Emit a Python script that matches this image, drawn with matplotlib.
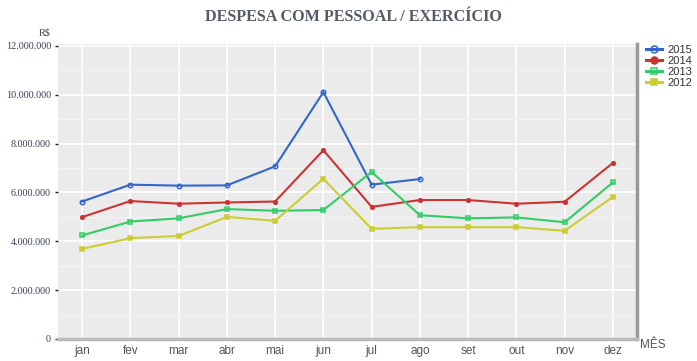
import matplotlib
matplotlib.use("Agg")
import matplotlib.pyplot as plt
from matplotlib.ticker import FuncFormatter, MultipleLocator

months = ["jan", "fev", "mar", "abr", "mai", "jun", "jul", "ago", "set", "out", "nov", "dez"]
s2015 = [5.63, 6.32, 6.28, 6.29, 7.07, 10.11, 6.32, 6.55]
s2014 = [4.99, 5.65, 5.54, 5.59, 5.63, 7.73, 5.41, 5.69, 5.69, 5.54, 5.62, 7.21]
s2013 = [4.24, 4.81, 4.94, 5.32, 5.25, 5.28, 6.84, 5.07, 4.94, 4.98, 4.78, 6.41]
s2012 = [3.69, 4.13, 4.22, 5.00, 4.84, 6.56, 4.51, 4.58, 4.58, 4.58, 4.43, 5.82]
yticks = [0, 2, 4, 6, 8, 10, 12]

series = [
    ("2015", s2015, "#3366CC", "o", "none"),
    ("2014", s2014, "#CC3333", "o", "#CC3333"),
    ("2013", s2013, "#33CC66", "s", "none"),
    ("2012", s2012, "#CCCC33", "s", "#CCCC33"),
]

fig = plt.figure(figsize=(6.97, 3.61), dpi=100)
fig.patch.set_facecolor("white")
ax = fig.add_axes([58 / 697, 1 - 339 / 361, (637 - 58) / 697, (339 - 43.5) / 361])
ax.set_facecolor("#ECEBEB")

for name, vals, col, mk, mfc in series:
    x = list(range(len(vals)))
    y = [v * 1e6 for v in vals]
    ms = 3.2 if mfc == "none" else 3.0
    if name == "2014":
        ms = 2.6
    ax.plot(x, y, color=col, lw=1.5, marker=mk, markersize=ms,
            markerfacecolor=mfc, markeredgecolor=col, markeredgewidth=1.1,
            label=name, zorder=3)

ax.set_xlim(-0.5, 11.5)
ax.set_ylim(0, 12.1e6)
ax.set_xticks(range(12))
ax.set_xticklabels(months, fontsize=8.5, color="#555555", family="Liberation Sans")
ax.set_yticks([v * 1e6 for v in yticks])
ax.yaxis.set_major_formatter(FuncFormatter(lambda v, p: f"{int(round(v)):,}".replace(",", ".")))
ax.yaxis.set_minor_locator(MultipleLocator(1e6))
for lab in ax.get_yticklabels():
    lab.set_fontsize(7.3)
    lab.set_family("Liberation Serif")
    lab.set_color("#3a4055")

ax.grid(True, which="major", color="white", lw=1.2, zorder=0)
ax.grid(True, which="minor", axis="y", color="#F4F3F3", lw=0.8, zorder=0)
ax.set_axisbelow(True)

ax.tick_params(axis="y", which="major", length=2, width=1, color="#222222", pad=3)
ax.tick_params(axis="y", which="minor", length=0)
ax.tick_params(axis="x", length=0, pad=4)

for s in ["top", "left"]:
    ax.spines[s].set_visible(False)
ax.spines["right"].set_color("#999999")
ax.spines["right"].set_linewidth(2.5)
ax.spines["bottom"].set_color("#BBBBBB")
ax.spines["bottom"].set_linewidth(2.5)

fig.text(353 / 697, 1 - 17 / 361, "DESPESA COM PESSOAL / EXERCÍCIO", ha="center", va="center",
         fontsize=11.6, fontweight="bold", family="Liberation Serif", color="#555a66")
fig.text(45 / 697, 1 - 33 / 361, "R$", ha="center", va="center", fontsize=7.3,
         family="Liberation Serif", color="#3a4055")
fig.text(640 / 697, 1 - 345 / 361, "MÊS", ha="left", va="center", fontsize=8.5,
         family="Liberation Sans", color="#555555")

handles, labels = ax.get_legend_handles_labels()
leg = fig.legend(handles, labels, loc="upper left", bbox_to_anchor=(646 / 697, 1 - 45 / 361),
                 frameon=False, handlelength=1.4, handletextpad=0.5, labelspacing=0.1,
                 borderpad=0, borderaxespad=0,
                 prop={"family": "Liberation Sans", "size": 8})
for t in leg.get_texts():
    t.set_color("#333333")
for h in leg.legend_handles:
    h.set_markersize(5)
    h.set_linewidth(2.2)

fig.savefig("out.png", dpi=100, facecolor="white")
